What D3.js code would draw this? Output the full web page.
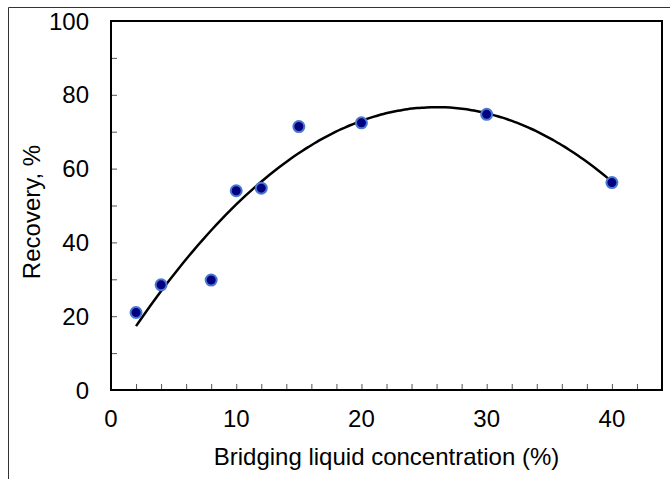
<!DOCTYPE html>
<html>
<head>
<meta charset="utf-8">
<script src="https://cdn.jsdelivr.net/npm/d3@7"></script>
<style>
  html, body { margin: 0; padding: 0; background: #fff; }
  svg { display: block; font-family: "Liberation Sans", Arial, sans-serif; }
</style>
</head>
<body>
<svg id="chart" width="670" height="479"></svg>
<script>
// Recovery vs bridging liquid concentration, with a 2nd-order trendline

// -------------------------------------------------------------
// Data
// -------------------------------------------------------------
const concentration = [2, 4, 8, 10, 12, 15, 20, 30, 40];
const recovery = [21.0, 28.5, 29.8, 54.0, 54.7, 71.4, 72.4, 74.7, 56.2];

const xTickValues = [0, 10, 20, 30, 40];
const yTickValues = [0, 20, 40, 60, 80, 100];

const xTitle = "Bridging liquid concentration (%)";
const yTitle = "Recovery, %";

// -------------------------------------------------------------
// Helpers
// -------------------------------------------------------------
// least squares polynomial (order 2) like a spreadsheet trendline
function quadFit(xs, ys) {
  const n = xs.length;
  let s1 = 0, s2 = 0, s3 = 0, s4 = 0, t0 = 0, t1 = 0, t2 = 0;
  xs.forEach((x, i) => {
    const y = ys[i];
    s1 += x; s2 += x * x; s3 += x * x * x; s4 += x * x * x * x;
    t0 += y; t1 += x * y; t2 += x * x * y;
  });
  // solve 3x3 with Cramer's rule
  const det3 = m =>
    m[0][0] * (m[1][1] * m[2][2] - m[1][2] * m[2][1]) -
    m[0][1] * (m[1][0] * m[2][2] - m[1][2] * m[2][0]) +
    m[0][2] * (m[1][0] * m[2][1] - m[1][1] * m[2][0]);
  const A = [[n, s1, s2], [s1, s2, s3], [s2, s3, s4]];
  const B = [t0, t1, t2];
  const D = det3(A);
  const col = k => A.map((row, r) => row.map((v, c) => c === k ? B[r] : v));
  return [det3(col(0)) / D, det3(col(1)) / D, det3(col(2)) / D];
}

// -------------------------------------------------------------
// Layout
// -------------------------------------------------------------
const svg = d3.select("#chart");
const margin = { top: 21, right: 8, bottom: 89, left: 111 };
const width = 670, height = 479;
const innerW = width - margin.left - margin.right;
const innerH = height - margin.top - margin.bottom;

// outer frame (top + left edges only visible)
svg.append("path")
  .attr("d", `M8.5,${height}V7.5H${width}`)
  .attr("fill", "none")
  .attr("stroke", "#333")
  .attr("stroke-width", 1);

const g = svg.append("g")
  .attr("transform", `translate(${margin.left},${margin.top})`);

const x = d3.scaleLinear().domain([0, 44]).range([0, innerW]);
const y = d3.scaleLinear().domain([0, 100]).range([innerH, 0]);

// minor + major ticks (inward)
const xAxis = g.append("g")
  .attr("transform", `translate(0,${innerH})`)
  .call(d3.axisTop(x).tickValues(d3.range(0, 44, 2)).tickSize(6).tickFormat(""));
xAxis.select(".domain").remove();
xAxis.selectAll("line").attr("stroke", "#555");

const yAxis = g.append("g")
  .call(d3.axisRight(y).tickValues(d3.range(0, 101, 10)).tickSize(6).tickFormat(""));
yAxis.select(".domain").remove();
yAxis.selectAll("line").attr("stroke", "#555");

// tick labels
g.append("g")
  .selectAll("text")
  .data(xTickValues)
  .join("text")
  .attr("x", d => x(d))
  .attr("y", innerH + 37)
  .attr("text-anchor", "middle")
  .attr("font-size", 24)
  .attr("fill", "#000")
  .text(d => d);

g.append("g")
  .selectAll("text")
  .data(yTickValues)
  .join("text")
  .attr("x", -22)
  .attr("y", d => y(d))
  .attr("dy", "0.36em")
  .attr("text-anchor", "end")
  .attr("font-size", 24)
  .attr("fill", "#000")
  .text(d => d);

// plot box
g.append("rect")
  .attr("x", 0)
  .attr("y", 0)
  .attr("width", innerW)
  .attr("height", innerH)
  .attr("fill", "none")
  .attr("stroke", "#000")
  .attr("stroke-width", 2);

// trendline
const [c0, c1, c2] = quadFit(concentration, recovery);
const xMin = d3.min(concentration), xMax = d3.max(concentration);
const curvePts = d3.range(0, 101).map(i => {
  const xv = xMin + (xMax - xMin) * i / 100;
  return [xv, c0 + c1 * xv + c2 * xv * xv];
});

g.append("path")
  .datum(curvePts)
  .attr("fill", "none")
  .attr("stroke", "#000")
  .attr("stroke-width", 2.5)
  .attr("d", d3.line().x(d => x(d[0])).y(d => y(d[1])).curve(d3.curveMonotoneX));

// points
g.append("g")
  .selectAll("circle")
  .data(concentration.map((c, i) => ({ c, r: recovery[i] })))
  .join("circle")
  .attr("cx", d => x(d.c))
  .attr("cy", d => y(d.r))
  .attr("r", 5.5)
  .attr("fill", "#000080")
  .attr("stroke", "#4a78d0")
  .attr("stroke-width", 2);

// axis titles
svg.append("text")
  .attr("x", margin.left + innerW / 2)
  .attr("y", 465)
  .attr("text-anchor", "middle")
  .attr("font-size", 24)
  .text(xTitle);

svg.append("text")
  .attr("transform", `translate(40,212) rotate(-90)`)
  .attr("text-anchor", "middle")
  .attr("font-size", 24)
  .text(yTitle);
</script>
</body>
</html>
